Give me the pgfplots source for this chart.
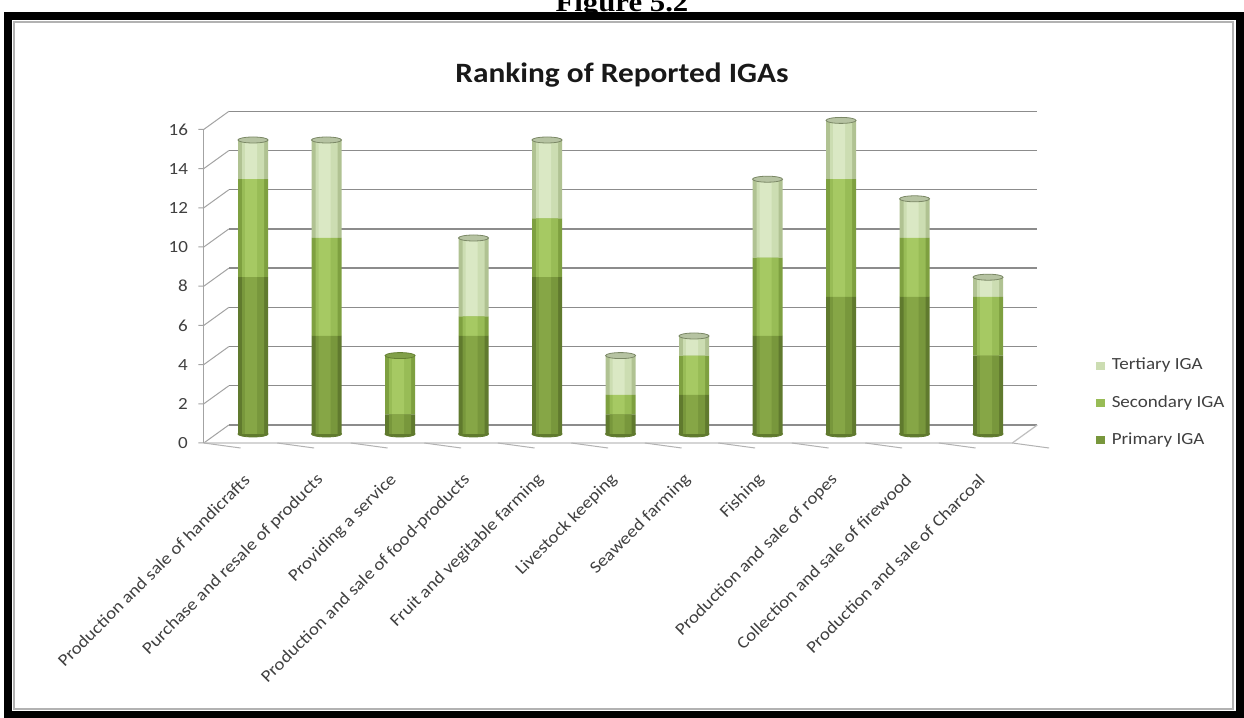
\documentclass[border=0pt]{standalone}
\usepackage{pgfplots}
\pgfplotsset{compat=1.18}
\usepackage{fontspec}
\setmainfont{Carlito}[FakeStretch=1.12]
\newfontfamily\figserif{Liberation Serif}[FakeStretch=1.14]
\definecolor{primD}{RGB}{96,122,46}
\definecolor{primM}{RGB}{120,151,60}
\definecolor{primL}{RGB}{134,166,70}
\definecolor{secD}{RGB}{126,160,64}
\definecolor{secM}{RGB}{152,188,86}
\definecolor{secL}{RGB}{166,201,99}
\definecolor{terD}{RGB}{176,194,146}
\definecolor{terM}{RGB}{204,221,178}
\definecolor{terL}{RGB}{218,232,196}
\definecolor{gridc}{RGB}{140,140,140}
\definecolor{txt}{RGB}{64,64,64}
\pgfplotstableread{
x prim sec ter
0 8 5 2
1 5 5 5
2 1 3 0
3 5 1 4
4 8 3 4
5 1 1 2
6 2 2 1
7 5 4 4
8 7 6 3
9 7 3 2
10 4 3 1
}\datatable
\pgfplotsset{
  base/.style={
    at={(108.15pt,142pt)}, anchor=south west,
    scale only axis, width=404.25pt, height=156.8pt,
    xmin=-0.5, xmax=10.5, ymin=0, ymax=16,
    clip=false,
  }
}
\begin{document}
\begin{tikzpicture}
\useasboundingbox (0,0) rectangle (622pt,359pt);
\clip (0,0) rectangle (622pt,359pt);
\fill[white] (0,0) rectangle (622pt,359pt);
\node[anchor=base, font=\figserif\bfseries\fontsize{13.5pt}{15pt}\selectfont] at (311pt,353pt) {Figure 5.2};
\draw[line width=4pt, black] (3.75pt,1.5pt) rectangle (620pt,350.75pt);
\draw[line width=0.6pt, black!30] (7pt,4.5pt) rectangle (616.5pt,348pt);
\node[anchor=base, font=\bfseries\fontsize{14pt}{16pt}\selectfont, text=black!90] at (311pt,317.5pt) {Ranking of Reported IGAs};

% axis A: walls, ticks, labels, bottoms
\begin{axis}[base,
  axis line style={draw=none}, tick style={draw=none},
  ytick={0,2,...,16},
  xtick={0,...,10},
  xticklabels={Production and sale of handicrafts,Purchase and resale of products,Providing a service,Production and sale of food-products,Fruit and vegitable farming,Livestock keeping,Seaweed farming,Fishing,Production and sale of ropes,Collection and sale of firewood,Production and sale of Charcoal},
  /pgf/number format/assume math mode=true,
  yticklabel style={anchor=east, inner sep=0pt, xshift=-14pt, yshift=-4.5pt, font=\fontsize{8.5pt}{10pt}\selectfont, text=txt},
  xticklabel style={rotate=45, anchor=east, inner sep=0pt, xshift=-17.3pt, yshift=-13.1pt, font=\fontsize{8.5pt}{10pt}\selectfont, text=txt},
]
\pgfplotsinvokeforeach{0,2,...,16}{
  \draw[gridc, line width=0.7pt] ([xshift=6.25pt,yshift=4.5pt]axis cs:-0.5,#1) -- ([xshift=6.25pt,yshift=4.5pt]axis cs:10.5,#1);
  \draw[gridc!80, line width=0.5pt] ([xshift=-9pt,yshift=-4.5pt]axis cs:-0.5,#1) -- ([xshift=-6.25pt,yshift=-4.5pt]axis cs:-0.5,#1) -- ([xshift=6.25pt,yshift=4.5pt]axis cs:-0.5,#1);
}
\draw[gridc!80, line width=0.5pt] ([xshift=-6.25pt,yshift=-4.5pt]axis cs:-0.5,0) -- ([xshift=-6.25pt,yshift=-4.5pt]axis cs:-0.5,16);
\draw[black!25, line width=0.6pt] ([xshift=-6.25pt,yshift=-4.5pt]axis cs:-0.5,0) -- ([xshift=-6.25pt,yshift=-4.5pt]axis cs:10.5,0) -- ([xshift=6.25pt,yshift=4.5pt]axis cs:10.5,0);
\pgfplotsinvokeforeach{-0.5,0.5,...,10.5}{
  \draw[black!30, line width=0.5pt] ([xshift=-6.25pt,yshift=-4.5pt]axis cs:#1,0) -- ++(0,-2.5pt);
}
\addplot[only marks, mark=*, mark size=7.5pt, mark options={yscale=0.2, fill=primD, draw=primD}] coordinates {
(0,0)(1,0)(2,0)(3,0)(4,0)(5,0)(6,0)(7,0)(8,0)(9,0)(10,0)};
\end{axis}

% axis B: stacked bars, dark outer layer
\begin{axis}[base, hide axis, ybar stacked, bar width=15pt]
\addplot[draw=none, fill=primD] table[x=x, y=prim] {\datatable};
\addplot[draw=none, fill=secD] table[x=x, y=sec] {\datatable};
\addplot[draw=none, fill=terD] table[x=x, y=ter] {\datatable};
\end{axis}
% mid layer + legend
\begin{axis}[base, hide axis, ybar stacked, bar width=11pt,
  legend style={at={(axis description cs:1.088,0.099)}, anchor=west, draw=none, fill=none,
    font=\fontsize{8.5pt}{10pt}\selectfont, text=txt, row sep=8.3pt, inner sep=0pt,
    nodes={inner sep=1.5pt}},
  legend cell align=left, reverse legend,
  legend image code/.code={\fill[#1] (0pt,-2pt) rectangle (4.2pt,2pt);},
]
\addplot[draw=none, fill=primM] table[x=x, y=prim] {\datatable};
\addlegendentry{\hspace{2pt}Primary IGA}
\addplot[draw=none, fill=secM] table[x=x, y=sec] {\datatable};
\addlegendentry{\hspace{2pt}Secondary IGA}
\addplot[draw=none, fill=terM] table[x=x, y=ter] {\datatable};
\addlegendentry{\hspace{2pt}Tertiary IGA}
\end{axis}
% highlight layer
\begin{axis}[base, hide axis, ybar stacked, bar width=6pt, bar shift=-1pt]
\addplot[draw=none, fill=primL] table[x=x, y=prim] {\datatable};
\addplot[draw=none, fill=secL] table[x=x, y=sec] {\datatable};
\addplot[draw=none, fill=terL] table[x=x, y=ter] {\datatable};
\end{axis}

% axis C: cylinder tops
\begin{axis}[base, hide axis]
\addplot[only marks, mark=*, mark size=7.5pt, mark options={yscale=0.2, fill=terM!85!black!90, draw=terD!70!black}] coordinates {
(0,15)(1,15)(3,10)(4,15)(5,4)(6,5)(7,13)(8,16)(9,12)(10,8)};
\addplot[only marks, mark=*, mark size=7.5pt, mark options={yscale=0.2, fill=secM!85!black, draw=secD!80!black}] coordinates {
(2,4)};
\end{axis}
\end{tikzpicture}
\end{document}
